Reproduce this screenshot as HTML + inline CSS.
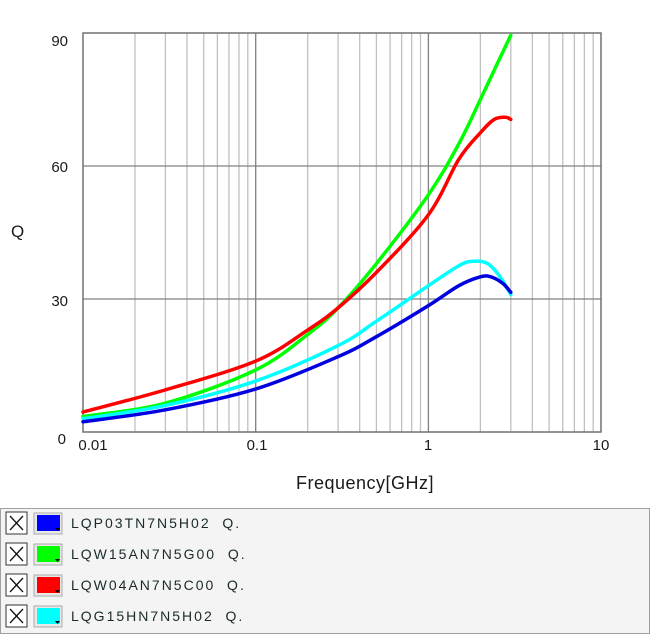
<!DOCTYPE html>
<html><head><style>
body{margin:0;background:#fff;width:650px;height:634px;overflow:hidden;font-family:"Liberation Sans",sans-serif;}
</style></head><body>
<svg width="650" height="634" xmlns="http://www.w3.org/2000/svg" id="s">
<g id="grid"></g>
<rect x="83" y="33" width="518" height="399" fill="none" stroke="#707070" stroke-width="1.5"/>
<g font-size="15" fill="#1a1a1a" font-family="Liberation Sans, sans-serif">
<text x="68" y="46" text-anchor="end">90</text>
<text x="68" y="172" text-anchor="end">60</text>
<text x="68" y="306" text-anchor="end">30</text>
<text x="66" y="444" text-anchor="end">0</text>
<text x="11" y="237" font-size="17">Q</text>
<text x="93" y="450" text-anchor="middle">0.01</text>
<text x="257" y="450" text-anchor="middle">0.1</text>
<text x="428" y="450" text-anchor="middle">1</text>
<text x="601" y="450" text-anchor="middle">10</text>
<text x="365" y="489" text-anchor="middle" font-size="18" letter-spacing="0.5">Frequency[GHz]</text>
</g>
<g id="curves" fill="none" stroke-width="3.5" stroke-linecap="round"></g>
<rect x="0.5" y="508.5" width="649" height="125" fill="#f4f4f4" stroke="#a0a0a0"/>
<g id="leg" font-size="14" fill="#1a2a2a" font-family="Liberation Sans, sans-serif" letter-spacing="2"></g>
</svg>
<script>
var ns="http://www.w3.org/2000/svg";
function el(p,t,a){var e=document.createElementNS(ns,t);for(var k in a)e.setAttribute(k,a[k]);p.appendChild(e);return e;}
var X=function(f){return 83+172.7*(Math.log10(f)+2)};
var Y=function(q){return 432-q*399/90};
var g=document.getElementById('grid');
for(var d=-2;d<1;d++)for(var m=2;m<10;m++){var x=X(m*Math.pow(10,d));el(g,'line',{x1:x,x2:x,y1:33,y2:432,stroke:'#c0c0c0','stroke-width':1.3});}
[0.1,1].forEach(function(f){var x=X(f);el(g,'line',{x1:x,x2:x,y1:33,y2:432,stroke:'#808080','stroke-width':1.3});});
[30,60].forEach(function(q){el(g,'line',{x1:83,x2:601,y1:Y(q),y2:Y(q),stroke:'#808080','stroke-width':1.3});});
var data=[
['#00ff00',[[0.01,3.5],[0.03,6.5],[0.1,14],[0.2,22],[0.3,28],[0.5,38],[1,53.5],[1.5,65],[2,75],[2.5,83],[3,89.5]]],
['#ff0000',[[0.01,4.5],[0.03,9.5],[0.1,16],[0.2,23],[0.3,28],[0.5,36],[1,49],[1.5,61.5],[2,67.5],[2.4,70.5],[2.8,71],[3,70.5]]],
['#00ffff',[[0.01,3],[0.03,6],[0.1,11.5],[0.3,19.5],[0.5,25],[1,33],[1.5,37.5],[1.8,38.5],[2.2,38],[2.6,35],[3,31]]],
['#0000e0',[[0.01,2.3],[0.03,5],[0.1,9.7],[0.3,17],[0.5,21.5],[1,28.5],[1.5,33],[2,35],[2.3,35],[2.7,33.5],[3,31.5]]]
];
var c=document.getElementById('curves');
data.forEach(function(s){var p=s[1].map(function(a){return [X(a[0]),Y(a[1])]});
var d='M'+p[0][0]+','+p[0][1];
for(var i=0;i<p.length-1;i++){var p0=p[Math.max(i-1,0)],p1=p[i],p2=p[i+1],p3=p[Math.min(i+2,p.length-1)];
d+=' C'+(p1[0]+(p2[0]-p0[0])/6)+','+(p1[1]+(p2[1]-p0[1])/6)+' '+(p2[0]-(p3[0]-p1[0])/6)+','+(p2[1]-(p3[1]-p1[1])/6)+' '+p2[0]+','+p2[1];}
el(c,'path',{d:d,stroke:s[0]});});
var L=document.getElementById('leg');
var items=[['#0000ff','LQP03TN7N5H02  Q.'],['#00ff00','LQW15AN7N5G00  Q.'],['#ff0000','LQW04AN7N5C00  Q.'],['#00ffff','LQG15HN7N5H02  Q.']];
items.forEach(function(it,i){var y=512+i*31;
el(L,'rect',{x:6,y:y,width:21,height:22,fill:'#fff',stroke:'#333'});
el(L,'path',{d:'M10,'+(y+4)+' L23,'+(y+18)+' M23,'+(y+4)+' L10,'+(y+18),stroke:'#111','stroke-width':1.3});
el(L,'rect',{x:34,y:y+1,width:28,height:21,fill:'#e8e8e8',stroke:'#aaa'});
el(L,'rect',{x:37,y:y+3,width:23,height:16,fill:it[0]});
el(L,'path',{d:'M55,'+(y+16)+' l5,0 l-2.5,3z',fill:'#000'});
var t=el(L,'text',{x:71,y:y+16});t.setAttribute('xml:space','preserve');t.style.whiteSpace='pre';t.textContent=it[1];});
</script>
</body></html>
